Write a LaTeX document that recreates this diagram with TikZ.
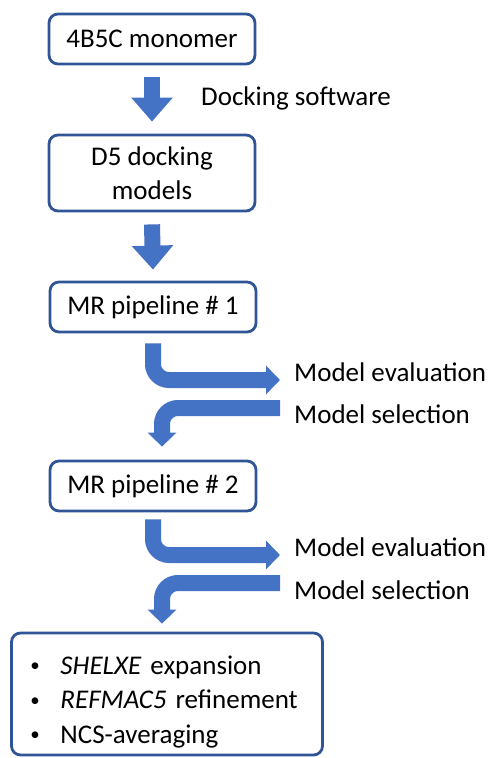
\documentclass[tikz,border=0pt]{standalone}
\usepackage{fontspec}
\setmainfont{Carlito}
\usetikzlibrary{arrows.meta}
\definecolor{boxblue}{RGB}{47,85,151}
\definecolor{arrowblue}{RGB}{68,114,196}
\newcommand{\dotitem}{\makebox[30pt][l]{\raisebox{2.4pt}{\scalebox{0.7}{\textbullet}}}}

\begin{document}
\begin{tikzpicture}[x=1pt,y=-1pt]
\tikzstyle{every node}+=[font=\fontsize{27}{34}\selectfont]
\tikzstyle{stage}=[draw=boxblue, line width=2.8pt, rounded corners=9pt, minimum width=206pt, minimum height=50pt, align=center]
\tikzstyle{downarrow}=[draw=arrowblue, line width=16pt, -{Triangle[width=40pt,length=24pt]}]
\tikzstyle{bentarrow}=[draw=arrowblue, line width=16pt, rounded corners=16pt, -{Triangle[width=28pt,length=14pt]}]
\tikzstyle{note}=[anchor=west, inner sep=0pt]
\useasboundingbox (0,0) rectangle (490,758);
\node[stage] (mono) at (152,39) {4B5C monomer};
\node[stage, minimum height=76pt] (dock) at (152,173) {D5 docking\\models};
\node[stage] (mr1) at (153,307) {MR pipeline \# 1};
\node[stage] (mr2) at (153,486) {MR pipeline \# 2};
\node[stage, minimum width=311pt, minimum height=122pt, text width=273pt, align=left] (final) at (167,694)
  {\rule{0pt}{34pt}\dotitem\textit{SHELXE} expansion\\[0.5pt]
   \dotitem\textit{REFMAC5} refinement\\[0.5pt]
   \dotitem NCS-averaging};
\node[note] (docksw) at (201,98) {Docking software};
\node[note] (eval1) at (294,372) {Model evaluation};
\node[note] (sel1) at (294,414) {Model selection};
\node[note] (eval2) at (294,547) {Model evaluation};
\node[note] (sel2) at (294,590) {Model selection};
\draw[downarrow] ([yshift=-12pt]mono.south) -- ([yshift=12pt]dock.north);
\draw[downarrow] ([yshift=-12pt]dock.south) -- ([yshift=11pt]mr1.north);
\draw[bentarrow] ([yshift=-10pt]mr1.south) |- ([xshift=-14pt,yshift=-8pt]eval1.west);
\draw[bentarrow] ([xshift=-14pt,yshift=6pt]sel1.west) -| ([xshift=9pt,yshift=13pt]mr2.north);
\draw[bentarrow] ([yshift=-7pt]mr2.south) |- ([xshift=-14pt,yshift=-8pt]eval2.west);
\draw[bentarrow] ([xshift=-14pt,yshift=7pt]sel2.west) -| ([xshift=-5pt,yshift=8pt]final.north);
\end{tikzpicture}
\end{document}
